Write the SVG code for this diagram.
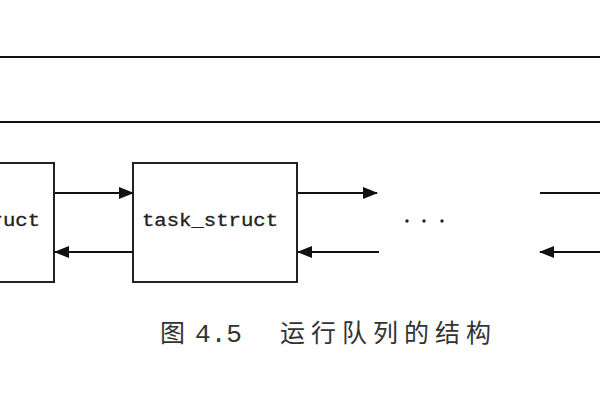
<svg xmlns="http://www.w3.org/2000/svg" width="600" height="400" viewBox="0 0 600 400">
<style>
.box{fill:#fff;stroke:#222;stroke-width:2}
.ln{stroke:#111;stroke-width:2;fill:none}
.lbl{font-family:"Liberation Mono","DejaVu Sans Mono",monospace;font-size:18px;fill:#222;stroke:#222;stroke-width:0.3}
.cap{font-family:"Noto Sans CJK SC",sans-serif;font-size:25px;fill:#333}
.num{font-family:"Liberation Mono",monospace;font-size:26px;fill:#333}
</style>
<defs>
<marker id="ah" markerWidth="15" markerHeight="12" refX="14" refY="6" orient="auto" markerUnits="userSpaceOnUse">
<path d="M0,0 L15,6 L0,12 Z" fill="#111"/>
</marker>
</defs>
<rect width="600" height="400" fill="#fff"/>
<g id="bars">
<line class="ln" x1="0" y1="57" x2="600" y2="57"/>
<line class="ln" x1="0" y1="122" x2="600" y2="122"/>
</g>
<g id="node-left">
<rect class="box" x="-110" y="163" width="164" height="119"/>
<text class="lbl" x="-28" y="226" text-anchor="middle" textLength="136" lengthAdjust="spacingAndGlyphs">task_struct</text>
</g>
<g id="node-mid">
<rect class="box" x="133" y="163" width="164" height="119"/>
<text class="lbl" x="210" y="226" text-anchor="middle" textLength="136" lengthAdjust="spacingAndGlyphs">task_struct</text>
</g>
<g id="ellipsis">
<circle cx="407" cy="221" r="1.7" fill="#222"/>
<circle cx="424" cy="221" r="1.7" fill="#222"/>
<circle cx="442" cy="221" r="1.7" fill="#222"/>
</g>
<g id="connectors">
<line class="ln" x1="55" y1="193" x2="133" y2="193" marker-end="url(#ah)"/>
<line class="ln" x1="133" y1="252" x2="55" y2="252" marker-end="url(#ah)"/>
<line class="ln" x1="298" y1="193" x2="377" y2="193" marker-end="url(#ah)"/>
<line class="ln" x1="379" y1="252" x2="298" y2="252" marker-end="url(#ah)"/>
<line class="ln" x1="540" y1="193" x2="600" y2="193"/>
<line class="ln" x1="600" y1="252" x2="540" y2="252" marker-end="url(#ah)"/>
</g>
<g id="caption">
<text class="cap" x="160" y="342">图</text>
<text class="num" x="195" y="342" textLength="47" lengthAdjust="spacingAndGlyphs">4.5</text>
<text class="cap" x="280 311 342 373 404 435 466" y="342">运行队列的结构</text>
</g>
</svg>
